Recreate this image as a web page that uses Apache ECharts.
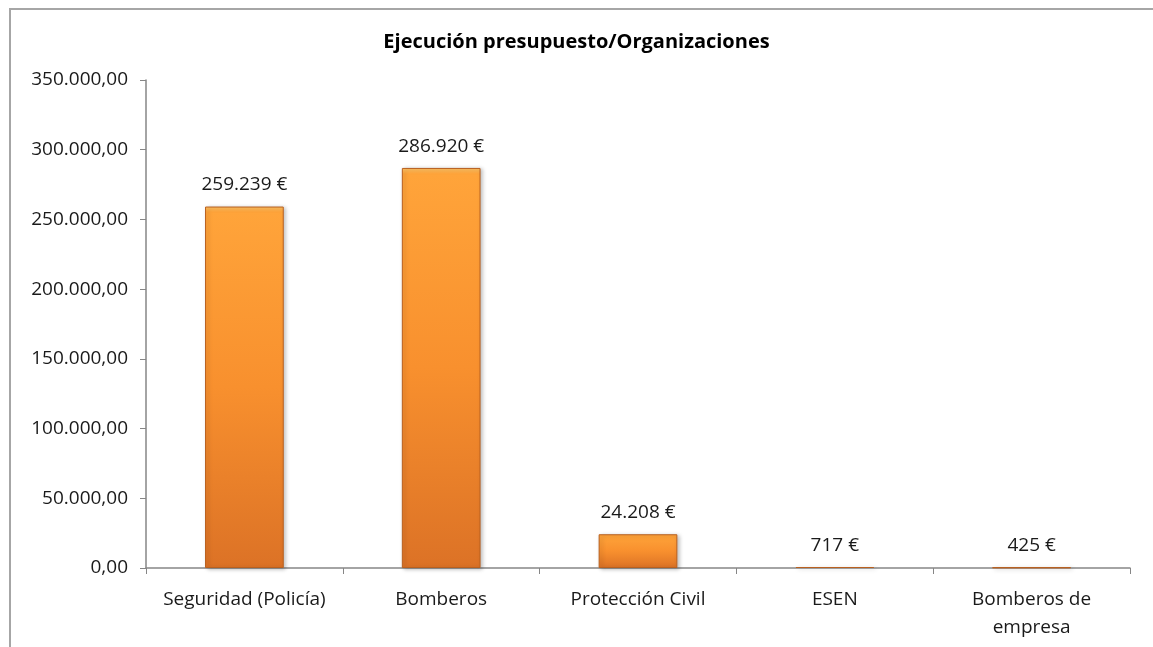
<!DOCTYPE html>
<html>
<head>
<meta charset="utf-8">
<script src="https://cdn.jsdelivr.net/npm/echarts@6/dist/echarts.min.js"></script>
<style>
  body { margin: 0; background: #fff; }
  #chart { width: 1153px; height: 647px; }
  #frame { position: absolute; left: 9px; top: 8px; width: 1160px; height: 660px;
           border-left: 2px solid #a6a6a6; border-top: 2px solid #a6a6a6; pointer-events: none; }
</style>
</head>
<body>
<div id="chart"></div>
<div id="frame"></div>
<script>
// datos del gráfico
var chartTitle = 'Ejecución presupuesto/Organizaciones'
var categorias = ['Seguridad (Policía)', 'Bomberos', 'Protección Civil', 'ESEN', 'Bomberos de\nempresa']
var importes = [259239, 286920, 24208, 717, 425]
var yMin = 0
var yMax = 350000
var yStep = 50000

// formato español: 350.000,00
function miles(n) {
  return String(Math.round(n)).replace(/\B(?=(\d{3})+(?!\d))/g, '.')
}

var fuente = '"Open Sans", "Noto Sans", sans-serif'
var myChart = echarts.init(document.getElementById('chart'))
var option = {
  animation: false,
  title: {
    text: chartTitle,
    left: 'center',
    top: 27,
    textStyle: { fontFamily: fuente, fontSize: 20, fontWeight: 'bold', color: '#000' }
  },
  grid: { left: 146, top: 80, right: 23, bottom: 79 },
  xAxis: {
    type: 'category',
    data: categorias,
    axisLine: { lineStyle: { color: '#868686', width: 1.5 } },
    axisTick: { show: true, length: 6, lineStyle: { color: '#868686' } },
    axisLabel: {
      color: '#1a1a1a', fontFamily: fuente, fontSize: 19, margin: 18, lineHeight: 28,
      interval: 0
    }
  },
  yAxis: {
    type: 'value',
    min: yMin,
    max: yMax,
    interval: yStep,
    splitLine: { show: false },
    axisLine: { show: true, lineStyle: { color: '#868686', width: 1.5 } },
    axisTick: { show: true, length: 6, lineStyle: { color: '#868686' } },
    axisLabel: {
      color: '#1a1a1a', fontFamily: fuente, fontSize: 19, margin: 18,
      formatter: function (v) { return miles(v) + ',00' }
    }
  },
  series: [{
    type: 'bar',
    data: importes,
    barWidth: '40%',
    itemStyle: {
      color: new echarts.graphic.LinearGradient(0, 0, 0, 1, [
        { offset: 0, color: '#ffc466' },
        { offset: 0.015, color: '#ffa43a' },
        { offset: 0.5, color: '#f8902e' },
        { offset: 1, color: '#dc7226' }
      ]),
      borderColor: '#b9601f',
      borderWidth: 1,
      shadowColor: 'rgba(0,0,0,0.25)',
      shadowBlur: 4,
      shadowOffsetX: 2,
      shadowOffsetY: 1
    },
    label: {
      show: true,
      position: 'top',
      distance: 12,
      color: '#1a1a1a',
      fontFamily: fuente,
      fontSize: 19,
      formatter: function (p) { return miles(p.value) + ' €' }
    }
  }]
}
myChart.setOption(option)
</script>
</body>
</html>
